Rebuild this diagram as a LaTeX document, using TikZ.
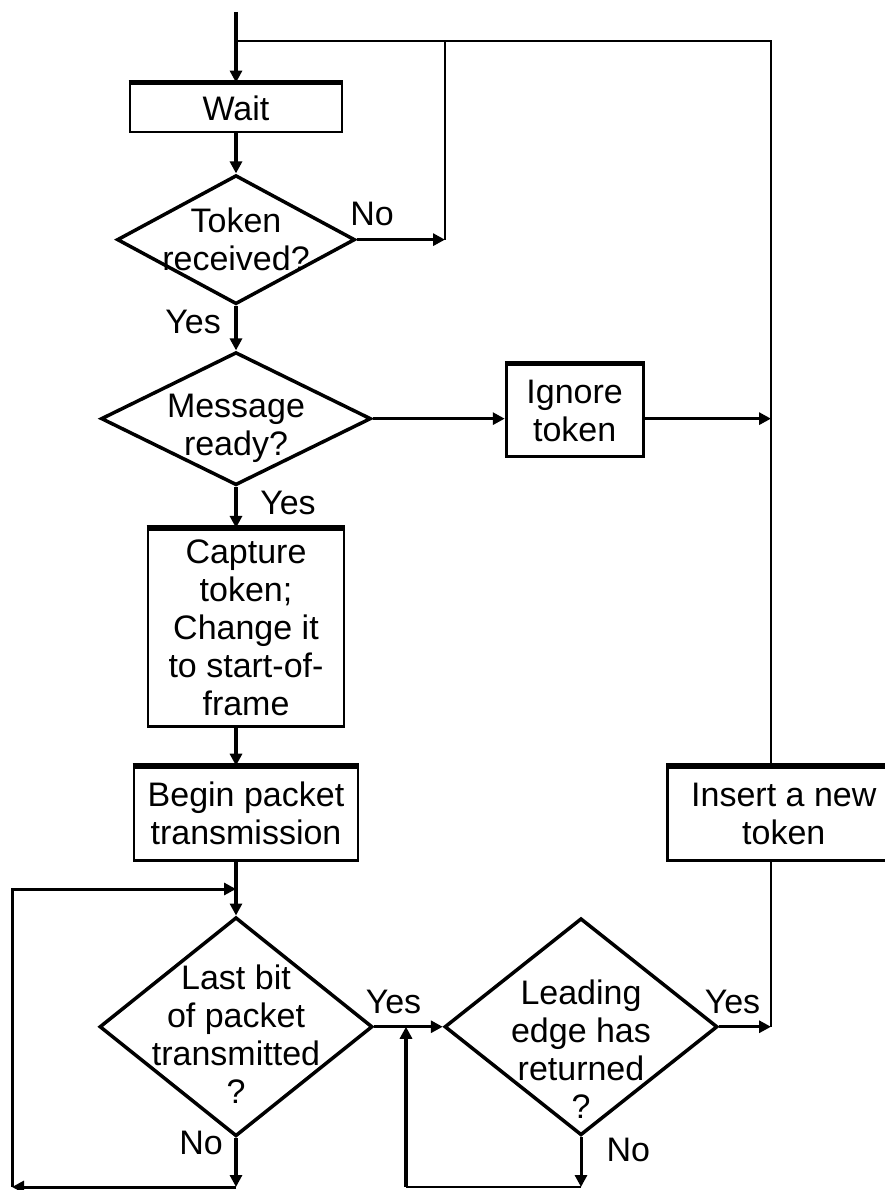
\documentclass[tikz,border=0pt]{standalone}
\usepackage{fontspec}
\setmainfont{Liberation Sans}
\usetikzlibrary{shapes.geometric,arrows.meta,positioning}
\tikzstyle{proc}=[rectangle,draw,line width=2.8pt,align=center,inner sep=0pt,font=\fontsize{34}{38}\selectfont]
\tikzstyle{dec}=[diamond,draw,line width=3.5pt,align=center,inner sep=-30pt,font=\fontsize{34}{38}\selectfont]
\tikzstyle{arr}=[-{Triangle[length=12pt,width=12pt]},line width=3pt]
\tikzstyle{flow}=[arr,line width=4.5pt]
\tikzstyle{loopline}=[line width=2.6pt]
\tikzstyle{topedge}=[line width=5pt]
\tikzstyle{lbl}=[inner sep=0pt,font=\fontsize{34}{38}\selectfont]

\begin{document}
\begin{tikzpicture}[x=1pt,y=-1pt]
\useasboundingbox (0,0) rectangle (885,1190);
\node (wait) [proc, minimum width=212pt, minimum height=48pt] at (236,108) {Wait};
\node (d1) [dec, minimum width=238pt, minimum height=129pt, below=40pt of wait] {Token\\received?};
\node (d2) [dec, minimum width=270pt, minimum height=133pt, text height=80pt, below=44.5pt of d1] {Message\\ready?};
\node (ign) [proc, minimum width=137pt, minimum height=92pt, right=132pt of d2, yshift=8pt] {Ignore\\token};
\node (cap) [proc, minimum width=196pt, minimum height=197pt, below=41pt of d2, xshift=10pt] {Capture\\token;\\Change it\\to start-of-\\frame};
\node (begin) [proc, minimum width=224pt, minimum height=93pt, below=38pt of cap] {Begin packet\\transmission};
\node (ins) [proc, minimum width=232pt, minimum height=93pt, right=307pt of begin] {Insert a new\\token};
\node (d3) [dec, minimum width=273pt, minimum height=219pt, text height=153pt, below=54pt of begin, xshift=-10pt] {Last bit\\of packet\\transmitted\\?};
\node (d4) [dec, minimum width=273pt, minimum height=217pt, text height=183pt, right=68.5pt of d3] {Leading\\edge has\\returned\\?};
\foreach \n in {wait,ign,cap,begin,ins}
  \draw [topedge] (\n.north west) -- (\n.north east);

% loop corners
\coordinate (entry) at (236,12);
\coordinate (joinL) at (236,41);
\coordinate (topR) at (771,41);
\coordinate (branch) at (445,41);
\coordinate (loopin) at (236,889);
\coordinate (bot3) at (236,1187);
\coordinate (corner) at (12,1187);
\coordinate (ret) at (406,1187);
\coordinate (bot4) at (d4.south |- bot3);

\draw [flow] (entry) -- (wait);
\draw [loopline] (topR |- ins.north) -- (topR) -- (joinL);
\draw [loopline] (branch) -- (branch |- d1.east);
\draw [flow] (wait) -- (d1);
\draw [arr] (d1.east) -- node [lbl, pos=0, anchor=south west, xshift=-8pt, yshift=12pt] {No} (branch |- d1.east);
\draw [flow] (d1) -- node [lbl, pos=0, anchor=north east, xshift=-13pt, yshift=-2pt] {Yes} (d2);
\draw [arr] (d2.east) -- (d2.east -| ign.west);
\draw [arr] (d2.east -| ign.east) -- (topR |- d2.east);
\draw [flow] (d2.south) -- node [lbl, pos=0, anchor=north west, xshift=22pt, yshift=-2pt] {Yes} (d2.south |- cap.north);
\draw [flow] (d2.south |- cap.south) -- (d2.south |- begin.north);
\draw [flow] (d3.north |- begin.south) -- (d3.north);
\draw [flow] (d3.south) -- node [lbl, pos=0, anchor=north east, xshift=-11pt, yshift=9pt] {No} (bot3);
\draw [arr] (bot3) -- (corner);
\draw [arr] (corner) -- (corner |- loopin) -- (loopin);
\draw [arr] (d3.east) -- node [lbl, pos=0, anchor=south west, xshift=-10pt, yshift=11pt] {Yes} (d4.west);
\draw [arr] (d4.south) -- node [lbl, pos=0, anchor=north west, xshift=24pt] {No} (bot4);
\draw [loopline] (bot4) -- (ret);
\draw [flow] (ret) -- (ret |- d3.east);
\draw [loopline] (topR |- ins.south) -- (topR |- d4.east);
\draw [arr] (d4.east) -- node [lbl, pos=0, anchor=south west, xshift=-16pt, yshift=11pt] {Yes} (topR |- d4.east);
\end{tikzpicture}
\end{document}
